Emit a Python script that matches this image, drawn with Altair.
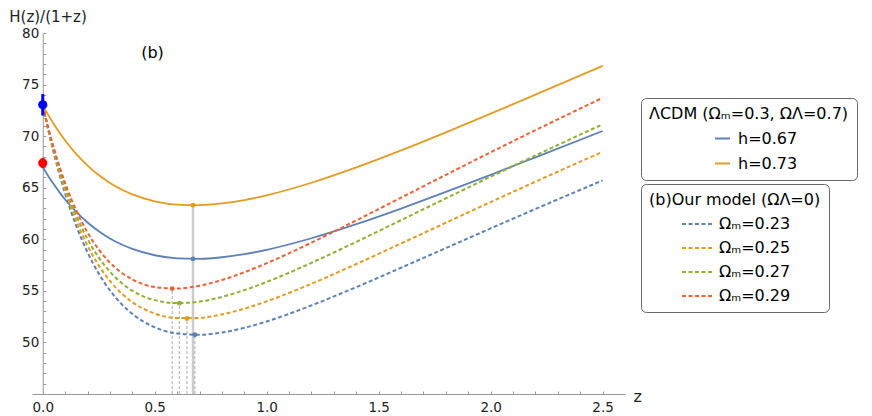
import altair as alt
import pandas as pd

# ---------------- data ----------------
z = [0.0, 0.025, 0.05, 0.075, 0.1, 0.15, 0.2, 0.25, 0.3, 0.35, 0.4, 0.5,
     0.6, 0.7, 0.8, 0.9, 1.0, 1.2, 1.4, 1.6, 1.8, 2.0, 2.2, 2.5]

lcdm_h067 = [67.00, 66.115, 65.301, 64.551, 63.862, 62.648, 61.629, 60.782,
             60.084, 59.517, 59.064, 58.452, 58.157, 58.109, 58.257, 58.559,
             58.983, 60.100, 61.462, 62.978, 64.588, 66.251, 67.943, 70.498]
lcdm_h073 = [73.00, 72.036, 71.149, 70.332, 69.581, 68.258, 67.149, 66.225,
             65.464, 64.846, 64.354, 63.686, 63.365, 63.313, 63.474, 63.803,
             64.265, 65.482, 66.966, 68.618, 70.372, 72.184, 74.028, 76.811]

om023 = [73.00, 70.525, 68.284, 66.258, 64.427, 61.283, 58.734, 56.682,
         55.046, 53.759, 52.764, 51.469, 50.865, 50.744, 50.962, 51.416,
         52.036, 53.588, 55.365, 57.241, 59.149, 61.055, 62.939, 65.705]
om025 = [73.00, 70.614, 68.462, 66.520, 64.771, 61.784, 59.381, 57.466,
         55.958, 54.789, 53.903, 52.800, 52.359, 52.377, 52.714, 53.273,
         53.984, 55.692, 57.601, 59.593, 61.606, 63.609, 65.585, 68.480]
om027 = [73.00, 70.704, 68.638, 66.781, 65.113, 62.281, 60.022, 58.240,
         56.855, 55.800, 55.018, 54.099, 53.812, 53.961, 54.410, 55.066,
         55.864, 57.719, 59.753, 61.855, 63.969, 66.064, 68.127, 71.147]
om029 = [73.00, 70.794, 68.815, 67.041, 65.454, 62.773, 60.656, 59.004,
         57.739, 56.793, 56.111, 55.367, 55.227, 55.500, 56.055, 56.803,
         57.683, 59.678, 61.831, 64.038, 66.247, 68.432, 70.579, 73.717]

lcdm_labels = ["h=0.67", "h=0.73"]
lcdm_colors = ["#5E81B5", "#E19C24"]
model_labels = ["Ωₘ=0.23", "Ωₘ=0.25", "Ωₘ=0.27", "Ωₘ=0.29"]
model_colors = ["#5E81B5", "#E19C24", "#8FB032", "#EB6235"]

lcdm_min_z = [0.671, 0.671]
lcdm_min_H = [58.10, 63.31]
model_min_z = [0.679, 0.644, 0.610, 0.578]
model_min_H = [50.74, 52.32, 53.81, 55.22]

obs_z = [0.0, 0.0]
obs_H = [73.04, 67.4]
obs_err = [1.04, 0.5]
obs_colors = ["#0000FF", "#FF0000"]

panel_label = ["(b)"]
panel_label_z = [0.49]
panel_label_H = [78.1]

y_floor = 45
x_ticks = [0.0, 0.1, 0.2, 0.3, 0.4, 0.5, 0.6, 0.7, 0.8, 0.9, 1.0, 1.1, 1.2,
           1.3, 1.4, 1.5, 1.6, 1.7, 1.8, 1.9, 2.0, 2.1, 2.2, 2.3, 2.4, 2.5]
y_ticks = list(range(46, 81))

# ---------------- tables ----------------
lcdm_df = pd.DataFrame({
    "z": z + z,
    "H": lcdm_h067 + lcdm_h073,
    "series": [lcdm_labels[0]] * len(z) + [lcdm_labels[1]] * len(z),
})
model_df = pd.concat([
    pd.DataFrame({"z": z, "H": vals, "series": lab})
    for vals, lab in zip([om023, om025, om027, om029], model_labels)
])
gray_df = pd.DataFrame({"z": [lcdm_min_z[1]], "lo": [y_floor], "hi": [lcdm_min_H[1]]})
drop_df = pd.DataFrame({"z": model_min_z, "lo": [y_floor] * 4, "hi": model_min_H})
minpts_df = pd.DataFrame({
    "z": lcdm_min_z + model_min_z,
    "H": lcdm_min_H + model_min_H,
    "c": lcdm_colors + model_colors,
})
obs_df = pd.DataFrame({
    "z": obs_z,
    "H": obs_H,
    "lo": [h - e for h, e in zip(obs_H, obs_err)],
    "hi": [h + e for h, e in zip(obs_H, obs_err)],
    "c": obs_colors,
})
label_df = pd.DataFrame({"z": panel_label_z, "H": panel_label_H, "t": panel_label})

# ---------------- scales / axes ----------------
FONT = "DejaVu Sans"
xs = alt.Scale(domain=[-0.048, 2.6], nice=False, zero=False)
ys = alt.Scale(domain=[45, 80], nice=False, zero=False)

xaxis = alt.Axis(
    title="z", values=x_ticks,
    labelExpr="abs(datum.value*2 - round(datum.value*2)) < 0.001 ? format(datum.value, '.1f') : ''",
    tickSize={"expr": "-3"}, labelPadding=9, labelOverlap=False,
    titleAngle=0, titleAlign="left", titleBaseline="alphabetic",
    titleX=601, titleY=7, titleFontSize=16,
)
yaxis = alt.Axis(
    title="H(z)/(1+z)", values=y_ticks,
    labelExpr="(datum.value % 5 == 0 && datum.value > 45) ? datum.label : ''",
    tickSize={"expr": "-3"}, labelPadding=7, labelOverlap=False, offset=-10.75,
    titleAngle=0, titleAlign="left", titleBaseline="alphabetic",
    titleX=-34, titleY=-11.5, titleFontSize=15,
)

X = alt.X("z:Q", scale=xs, axis=xaxis)
Y = alt.Y("H:Q", scale=ys, axis=yaxis)
Ylo = alt.Y("lo:Q", scale=ys, axis=yaxis)

common_leg = dict(
    orient="none", symbolType="stroke", symbolStrokeWidth=2,
    titleFontSize=16, labelFontSize=16, titleFontWeight="normal",
    titleFont=FONT, labelFont=FONT, titleColor="black", labelColor="black",
    titleLimit=400, labelLimit=300, strokeColor="#666666", cornerRadius=5,
    padding=8, fillColor="white",
)

leg1 = alt.Legend(
    title="ΛCDM (Ωₘ=0.3, ΩΛ=0.7)", legendX=609, legendY=65,
    symbolSize=225, symbolOffset=65, labelOffset=7,
    rowPadding=8, titlePadding=8, **common_leg,
)
leg2 = alt.Legend(
    title="(b)Our model (ΩΛ=0)", legendX=609, legendY=151,
    symbolSize=900, symbolOffset=32, labelOffset=6, symbolDash=[4, 2.5],
    rowPadding=-5, titlePadding=0, **common_leg,
)

# ---------------- layers ----------------
gray = alt.Chart(gray_df).mark_rule(color="#cccccc", strokeWidth=2.5).encode(
    x=X, y=Ylo, y2="hi:Q")
drops = alt.Chart(drop_df).mark_rule(color="#aaaaaa", strokeWidth=1,
                                     strokeDash=[3, 2]).encode(
    x=X, y=Ylo, y2="hi:Q")

lcdm_lines = alt.Chart(lcdm_df).mark_line(strokeWidth=1.8, interpolate="monotone").encode(
    x=X, y=Y,
    color=alt.Color("series:N", scale=alt.Scale(domain=lcdm_labels, range=lcdm_colors),
                    legend=leg1),
)
model_lines = alt.Chart(model_df).mark_line(strokeWidth=2, strokeDash=[4, 2.5],
                                            interpolate="monotone").encode(
    x=X, y=Y,
    color=alt.Color("series:N", scale=alt.Scale(domain=model_labels, range=model_colors),
                    legend=leg2),
)
minpts = alt.Chart(minpts_df).mark_circle(size=24, opacity=1).encode(
    x=X, y=Y, color=alt.Color("c:N", scale=None))
errbars = alt.Chart(obs_df).mark_rule(strokeWidth=3).encode(
    x=X, y=Ylo, y2="hi:Q", color=alt.Color("c:N", scale=None))
obs = alt.Chart(obs_df).mark_circle(size=85, opacity=1).encode(
    x=X, y=Y, color=alt.Color("c:N", scale=None))
label = alt.Chart(label_df).mark_text(font=FONT, fontSize=16, color="black",
                                      align="center", baseline="middle").encode(
    x=X, y=Y, text="t:N")

chart = (
    alt.layer(gray, drops, lcdm_lines, model_lines, minpts, errbars, obs, label)
    .resolve_scale(color="independent")
    .properties(
        width=593, height=361,
        autosize=alt.AutoSizeParams(type="none"),
        padding={"left": 24, "top": 25, "right": 239, "bottom": 22},
    )
    .configure_view(stroke=None)
    .configure_axis(
        grid=False, domainColor="#999999", tickColor="#999999",
        labelColor="#222222", labelFont=FONT, labelFontSize=13.5,
        titleFont=FONT, titleFontWeight="normal", titleColor="#222222",
    )
)

chart.save("out.html", embed_options={"renderer": "svg", "actions": False})
